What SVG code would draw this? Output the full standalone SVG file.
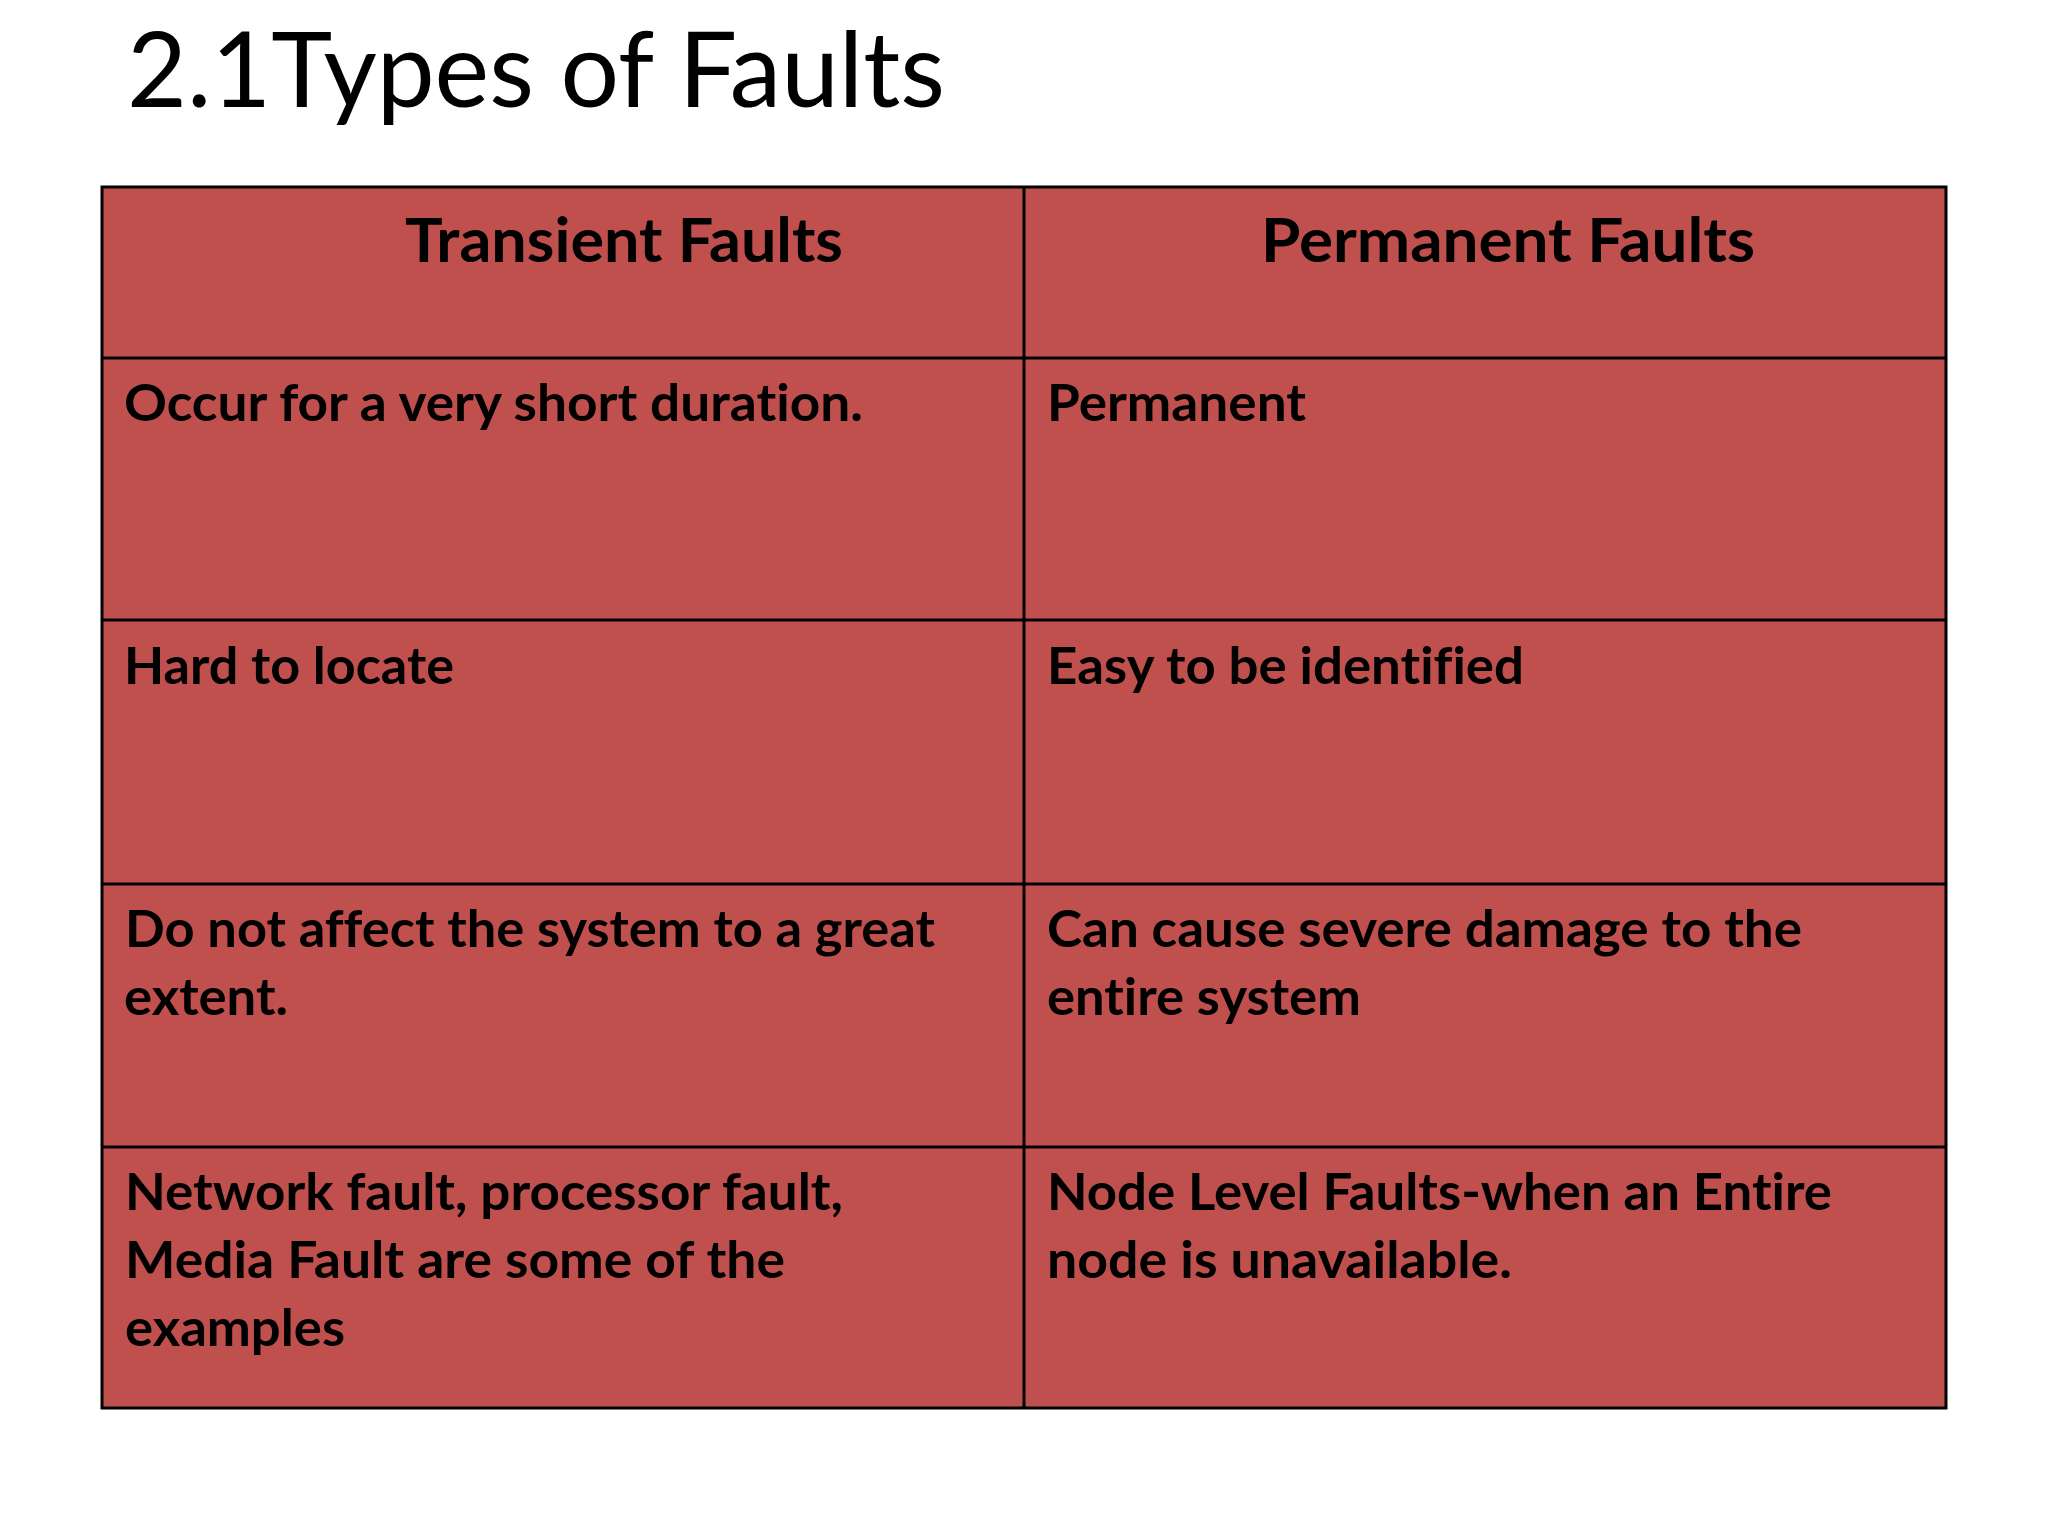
<svg xmlns="http://www.w3.org/2000/svg" width="2048" height="1536" viewBox="0 0 2048 1536">
<style>
.bg{fill:#ffffff}
.cell{fill:#C0504D}
.grid{stroke:#000000;stroke-width:3;fill:none}
text{font-variant-ligatures:none;font-feature-settings:"liga" 0,"clig" 0}
.title{font-family:Lato,"Open Sans","Liberation Sans",sans-serif;font-size:104px;font-weight:400;fill:#000}
.head{font-family:Lato,"Open Sans","Liberation Sans",sans-serif;font-size:62px;font-weight:700;fill:#000}
.body{font-family:Lato,"Open Sans","Liberation Sans",sans-serif;font-size:52px;font-weight:700;fill:#000}
</style>
<rect class="bg" x="0" y="0" width="2048" height="1536"/>
<g id="title">
<text class="title" x="127" y="107" textLength="818" lengthAdjust="spacingAndGlyphs">2.1Types of Faults</text>
</g>
<g id="table-fill">
<rect class="cell" x="102" y="187" width="1844" height="1221"/>
</g>
<g id="header-transient">
<text class="head" x="405" y="262" textLength="438" lengthAdjust="spacingAndGlyphs">Transient Faults</text>
</g>
<g id="header-permanent">
<text class="head" x="1261" y="262" textLength="494" lengthAdjust="spacingAndGlyphs">Permanent Faults</text>
</g>
<g id="r1-transient">
<text class="body" x="124" y="421" textLength="739" lengthAdjust="spacingAndGlyphs">Occur for a very short duration.</text>
</g>
<g id="r1-permanent">
<text class="body" x="1047" y="421" textLength="259" lengthAdjust="spacingAndGlyphs">Permanent</text>
</g>
<g id="r2-transient">
<text class="body" x="124" y="684" textLength="330" lengthAdjust="spacingAndGlyphs">Hard to locate</text>
</g>
<g id="r2-permanent">
<text class="body" x="1047" y="684" textLength="477" lengthAdjust="spacingAndGlyphs">Easy to be identified</text>
</g>
<g id="r3-transient">
<text class="body" x="125" y="947" textLength="810" lengthAdjust="spacingAndGlyphs">Do not affect the system to a great</text>
<text class="body" x="124" y="1015" textLength="164" lengthAdjust="spacingAndGlyphs">extent.</text>
</g>
<g id="r3-permanent">
<text class="body" x="1047" y="947" textLength="755" lengthAdjust="spacingAndGlyphs">Can cause severe damage to the</text>
<text class="body" x="1047" y="1015" textLength="314" lengthAdjust="spacingAndGlyphs">entire system</text>
</g>
<g id="r4-transient">
<text class="body" x="125" y="1210" textLength="718" lengthAdjust="spacingAndGlyphs">Network fault, processor fault,</text>
<text class="body" x="125" y="1278" textLength="660" lengthAdjust="spacingAndGlyphs">Media Fault are some of the</text>
<text class="body" x="125" y="1346" textLength="220" lengthAdjust="spacingAndGlyphs">examples</text>
</g>
<g id="r4-permanent">
<text class="body" x="1047" y="1210" textLength="785" lengthAdjust="spacingAndGlyphs">Node Level Faults-when an Entire</text>
<text class="body" x="1047" y="1278" textLength="465" lengthAdjust="spacingAndGlyphs">node is unavailable.</text>
</g>
<g id="connectors" class="grid">
<rect x="102" y="187" width="1844" height="1221"/>
<line x1="1024" y1="187" x2="1024" y2="1408"/>
<line x1="102" y1="358" x2="1946" y2="358"/>
<line x1="102" y1="620" x2="1946" y2="620"/>
<line x1="102" y1="884" x2="1946" y2="884"/>
<line x1="102" y1="1147" x2="1946" y2="1147"/>
</g>
</svg>
